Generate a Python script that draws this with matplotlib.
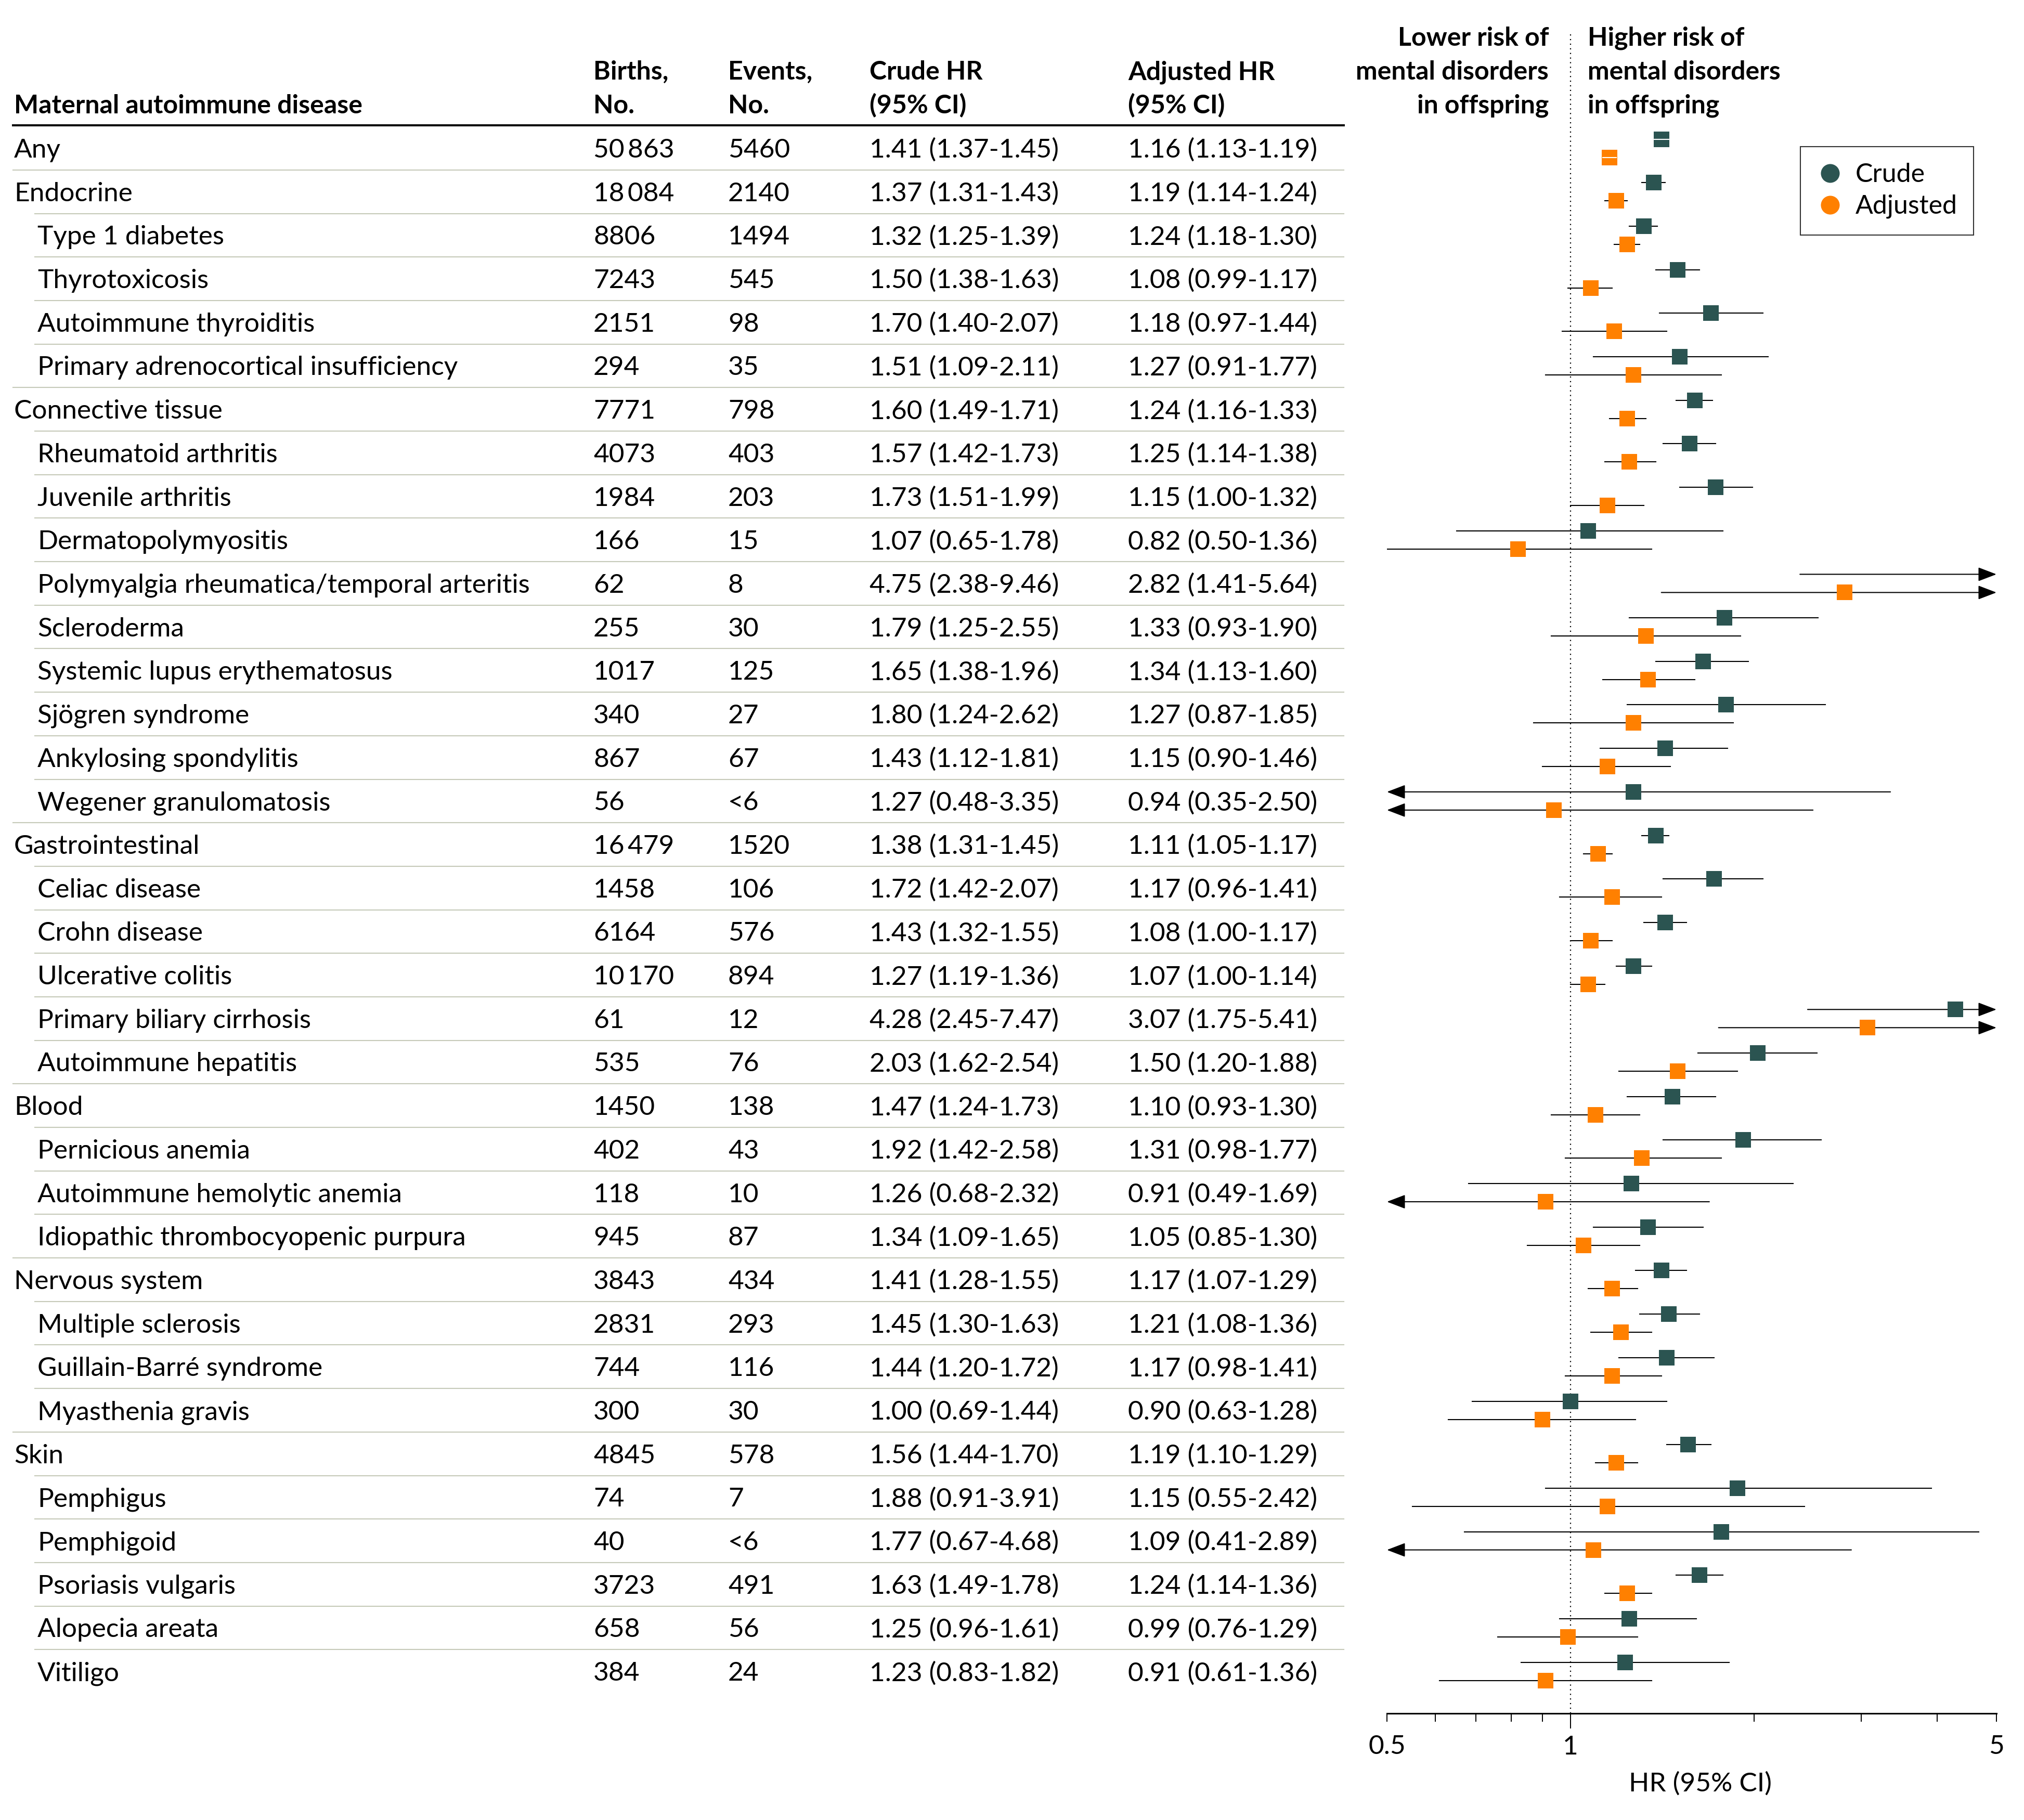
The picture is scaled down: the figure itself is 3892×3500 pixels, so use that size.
import numpy as np
import matplotlib.pyplot as plt
from matplotlib.lines import Line2D

plt.rcParams['font.family'] = ['Lato', 'DejaVu Sans']

# Данные таблицы (0 - группа, 1 - отдельное заболевание)
names = ['Any', 'Endocrine', 'Type 1 diabetes', 'Thyrotoxicosis', 'Autoimmune thyroiditis',
         'Primary adrenocortical insufficiency', 'Connective tissue', 'Rheumatoid arthritis',
         'Juvenile arthritis', 'Dermatopolymyositis', 'Polymyalgia rheumatica/temporal arteritis',
         'Scleroderma', 'Systemic lupus erythematosus', 'Sjögren syndrome', 'Ankylosing spondylitis',
         'Wegener granulomatosis', 'Gastrointestinal', 'Celiac disease', 'Crohn disease',
         'Ulcerative colitis', 'Primary biliary cirrhosis', 'Autoimmune hepatitis', 'Blood',
         'Pernicious anemia', 'Autoimmune hemolytic anemia', 'Idiopathic thrombocyopenic purpura',
         'Nervous system', 'Multiple sclerosis', 'Guillain-Barré syndrome', 'Myasthenia gravis',
         'Skin', 'Pemphigus', 'Pemphigoid', 'Psoriasis vulgaris', 'Alopecia areata', 'Vitiligo']
level = [0, 0, 1, 1, 1, 1, 0, 1, 1, 1, 1, 1, 1, 1, 1, 1, 0, 1, 1, 1, 1, 1, 0, 1, 1, 1,
         0, 1, 1, 1, 0, 1, 1, 1, 1, 1]
births = [50863, 18084, 8806, 7243, 2151, 294, 7771, 4073, 1984, 166, 62, 255, 1017, 340, 867, 56,
          16479, 1458, 6164, 10170, 61, 535, 1450, 402, 118, 945, 3843, 2831, 744, 300,
          4845, 74, 40, 3723, 658, 384]
events = ['5460', '2140', '1494', '545', '98', '35', '798', '403', '203', '15', '8', '30', '125',
          '27', '67', '<6', '1520', '106', '576', '894', '12', '76', '138', '43', '10', '87',
          '434', '293', '116', '30', '578', '7', '<6', '491', '56', '24']
crude_hr = [1.41, 1.37, 1.32, 1.50, 1.70, 1.51, 1.60, 1.57, 1.73, 1.07, 4.75, 1.79, 1.65, 1.80,
            1.43, 1.27, 1.38, 1.72, 1.43, 1.27, 4.28, 2.03, 1.47, 1.92, 1.26, 1.34, 1.41, 1.45,
            1.44, 1.00, 1.56, 1.88, 1.77, 1.63, 1.25, 1.23]
crude_lo = [1.37, 1.31, 1.25, 1.38, 1.40, 1.09, 1.49, 1.42, 1.51, 0.65, 2.38, 1.25, 1.38, 1.24,
            1.12, 0.48, 1.31, 1.42, 1.32, 1.19, 2.45, 1.62, 1.24, 1.42, 0.68, 1.09, 1.28, 1.30,
            1.20, 0.69, 1.44, 0.91, 0.67, 1.49, 0.96, 0.83]
crude_hi = [1.45, 1.43, 1.39, 1.63, 2.07, 2.11, 1.71, 1.73, 1.99, 1.78, 9.46, 2.55, 1.96, 2.62,
            1.81, 3.35, 1.45, 2.07, 1.55, 1.36, 7.47, 2.54, 1.73, 2.58, 2.32, 1.65, 1.55, 1.63,
            1.72, 1.44, 1.70, 3.91, 4.68, 1.78, 1.61, 1.82]
adj_hr = [1.16, 1.19, 1.24, 1.08, 1.18, 1.27, 1.24, 1.25, 1.15, 0.82, 2.82, 1.33, 1.34, 1.27,
          1.15, 0.94, 1.11, 1.17, 1.08, 1.07, 3.07, 1.50, 1.10, 1.31, 0.91, 1.05, 1.17, 1.21,
          1.17, 0.90, 1.19, 1.15, 1.09, 1.24, 0.99, 0.91]
adj_lo = [1.13, 1.14, 1.18, 0.99, 0.97, 0.91, 1.16, 1.14, 1.00, 0.50, 1.41, 0.93, 1.13, 0.87,
          0.90, 0.35, 1.05, 0.96, 1.00, 1.00, 1.75, 1.20, 0.93, 0.98, 0.49, 0.85, 1.07, 1.08,
          0.98, 0.63, 1.10, 0.55, 0.41, 1.14, 0.76, 0.61]
adj_hi = [1.19, 1.24, 1.30, 1.17, 1.44, 1.77, 1.33, 1.38, 1.32, 1.36, 5.64, 1.90, 1.60, 1.85,
          1.46, 2.50, 1.17, 1.41, 1.17, 1.14, 5.41, 1.88, 1.30, 1.77, 1.69, 1.30, 1.29, 1.36,
          1.41, 1.28, 1.29, 2.42, 2.89, 1.36, 1.29, 1.36]

crude_c = '#2b5451'
adj_c = '#ff8000'

W, H = 3892, 3500
ROW0, ROWH = 285, 83.69
FS = 37     # обычный текст
FSB = 36    # жирный текст

fig = plt.figure(figsize=(W / 100, H / 100), dpi=100)

# Таблица слева - оси в пикселях
ax_t = fig.add_axes([0, 0, 1, 1])
ax_t.set_xlim(0, W)
ax_t.set_ylim(H, 0)
ax_t.axis('off')

rows = ROW0 + ROWH * np.arange(len(names))
col_x = [1141, 1400, 1672, 2169]


def fmt_n(n):
    s = str(n)
    if n >= 10000:
        s = s[:-3] + '\u2009' + s[-3:]
    return s


def fmt_ci(hr, lo, hi):
    return f'{hr:.2f} ({lo:.2f}-{hi:.2f})'


for i in range(len(names)):
    yb = rows[i] + 18
    ax_t.text(27 if level[i] == 0 else 72, yb, names[i], fontsize=FS, va='baseline')
    cells = [fmt_n(births[i]), events[i], fmt_ci(crude_hr[i], crude_lo[i], crude_hi[i]),
             fmt_ci(adj_hr[i], adj_lo[i], adj_hi[i])]
    for x, s in zip(col_x, cells):
        ax_t.text(x, yb, s, fontsize=FS, va='baseline')
    if i > 0:
        y = (rows[i - 1] + rows[i]) / 2
        ax_t.plot([25 if level[i] == 0 else 67, 2584], [y, y], color='#c6cab9', lw=1.5)

# шапка
ax_t.plot([25, 2584], [241, 241], color='black', lw=2.9)
ax_t.text(27, 218, 'Maternal autoimmune disease', fontsize=FSB, fontweight='bold', va='baseline')
heads = [('Births,', 'No.'), ('Events,', 'No.'), ('Crude HR', '(95% CI)'), ('Adjusted HR', '(95% CI)')]
for x, (a, b) in zip(col_x, heads):
    ax_t.text(x, 153, a, fontsize=FSB, fontweight='bold', va='baseline')
    ax_t.text(x, 218, b, fontsize=FSB, fontweight='bold', va='baseline')

for yb, a, b in zip([88, 153, 218], ['Lower risk of', 'mental disorders', 'in offspring'],
                    ['Higher risk of', 'mental disorders', 'in offspring']):
    ax_t.text(2978, yb, a, fontsize=FSB, fontweight='bold', va='baseline', ha='right')
    ax_t.text(3053, yb, b, fontsize=FSB, fontweight='bold', va='baseline', ha='left')

# Forest plot
ax = fig.add_axes([2667 / W, 1 - 3295 / H, 1172 / W, (3295 - 60) / H])
ax.set_xscale('log')
ax.set_xlim(0.5, 5)
ax.set_ylim(3295, 60)
ax.patch.set_alpha(0)
for s in ['top', 'left', 'right']:
    ax.spines[s].set_visible(False)
ax.spines['bottom'].set_linewidth(2.2)
ax.set_yticks([])
ax.axvline(1, color='black', lw=1.6, ls=(0, (1, 3)), zorder=1)

half = 10 ** (15 / 1172)   # половина ширины маркера в единицах лог-шкалы
head = 10 ** (30 / 1172)   # длина наконечника стрелки

for hrs, los, his, col, off in [(crude_hr, crude_lo, crude_hi, crude_c, -17.5),
                                (adj_hr, adj_lo, adj_hi, adj_c, 17.5)]:
    for i in range(len(names)):
        y = rows[i] + off
        hr, lo, hi = hrs[i], los[i], his[i]
        arr = dict(arrowstyle='-|>,head_length=0.55,head_width=0.21', mutation_scale=40,
                   lw=1.5, color='black', shrinkA=0, shrinkB=0)
        if hi > 5:
            ax.annotate('', xy=(5, y), xytext=(lo, y), arrowprops=arr, annotation_clip=False, zorder=2)
        elif lo < 0.5:
            ax.annotate('', xy=(0.5, y), xytext=(hi, y), arrowprops=arr, annotation_clip=False, zorder=2)
        else:
            ax.plot([lo, hi], [y, y], color='black', lw=1.5, zorder=2)
        if hi > 5 and hr > 5 / head:
            continue
        ax.plot([hr], [y], marker='s', ms=21.6, color=col, mew=0, ls='none', zorder=3)
        if lo >= hr / half and hi <= hr * half:
            ax.plot([lo, hi], [y, y], color='white', lw=1.5, zorder=4)

ax.set_xticks([1])
ax.set_xticklabels(['1'])
ax.set_xticks([0.5, 0.6, 0.7, 0.8, 0.9, 2, 3, 4, 5], minor=True)
ax.set_xticklabels(['0.5', '', '', '', '', '', '', '', '5'], minor=True)
ax.tick_params(axis='x', which='major', length=21, width=1.4, pad=9, labelsize=FS)
ax.tick_params(axis='x', which='minor', length=11.5, width=1.4, pad=18, labelsize=FS)
ax.set_xlabel('HR (95% CI)', fontsize=FS)
ax.xaxis.set_label_coords(0.5137, -0.0345)

handles = [Line2D([], [], marker='o', ls='none', color=crude_c, ms=26, mew=0),
           Line2D([], [], marker='o', ls='none', color=adj_c, ms=26, mew=0)]
leg = ax.legend(handles, ['Crude', 'Adjusted'], loc='upper left',
                bbox_to_anchor=(3462 / W, 1 - 282 / H), bbox_transform=fig.transFigure,
                frameon=True, fancybox=False, edgecolor='black', fontsize=FSB,
                borderpad=0.62, labelspacing=0.3, handlelength=1.05, handletextpad=0.45,
                borderaxespad=0)
leg.get_frame().set_linewidth(1.5)

fig.savefig('out.png', dpi=100)
